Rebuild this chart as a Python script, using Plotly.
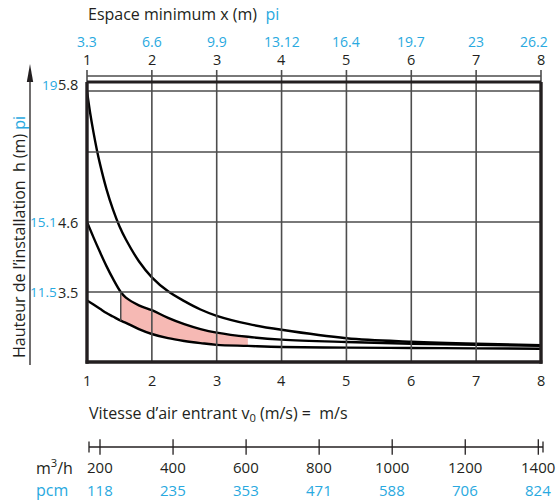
import plotly.graph_objects as go

W, H = 558, 503
BLUE = "#29a9e0"
INK = "#231f20"
GRID = "#4d4d4d"
PINK = "#f6b9b4"
FONT = "Open Sans"

# ---------------- data ----------------
x_ticks = [1, 2, 3, 4, 5, 6, 7, 8]
x_top_pi = ["3.3", "6.6", "9.9", "13.12", "16.4", "19.7", "23", "26.2"]

# labelled heights, in grid units of the chart (bottom frame = 0, one grid row = 1)
h_pos = [1, 2, 3.96]
h_m = ["3.5", "4.6", "5.8"]
h_pi = ["11.5", "15.1", "19"]
grid_rows = [1, 2, 3]
top_rows = [3.87, 4.086]
top_frame = 4.0

flow_m3h = [200, 400, 600, 800, 1000, 1200, 1400]
flow_pcm = [118, 235, 353, 471, 588, 706, 824]

# upper curve
xA = [1.0, 1.05, 1.1, 1.15, 1.2, 1.3, 1.4, 1.5, 1.6, 1.8, 2.0, 2.25, 2.5, 2.75,
      3.0, 3.5, 4.0, 5.0, 6.0, 7.0, 8.0]
yA = [3.87, 3.55, 3.28, 3.04, 2.83, 2.47, 2.18, 1.94, 1.75, 1.44, 1.21, 1.01,
      0.87, 0.75, 0.66, 0.54, 0.46, 0.34, 0.29, 0.26, 0.24]

# middle and lower curves (shared x)
xBC = [1.0, 1.1, 1.2, 1.3, 1.4, 1.52, 1.6, 1.8, 2.0, 2.25, 2.5, 2.75, 3.0,
       3.48, 4.0, 5.0, 6.0, 7.0, 8.0]
yB = [2.0, 1.78, 1.57, 1.37, 1.19, 1.0, 0.92, 0.81, 0.74, 0.63, 0.54, 0.47,
      0.42, 0.36, 0.32, 0.285, 0.26, 0.245, 0.23]
yC = [0.88, 0.82, 0.76, 0.70, 0.65, 0.59, 0.56, 0.47, 0.40, 0.34, 0.30, 0.27,
      0.245, 0.23, 0.215, 0.205, 0.20, 0.195, 0.19]

band_x0, band_x1 = 1.52, 3.48


def pxx(x):
    return x / W


def pxy(y):
    return 1 - y / H


YTOP = 292 / 70.0  # top of main y range (grid units)

fig = go.Figure()

band_idx = [i for i, v in enumerate(xBC) if band_x0 <= v <= band_x1]
bx = [xBC[i] for i in band_idx]
fig.add_trace(go.Scatter(x=bx, y=[yC[i] for i in band_idx], mode="lines",
                         line=dict(width=0, shape="spline"), hoverinfo="skip",
                         showlegend=False))
fig.add_trace(go.Scatter(x=bx, y=[yB[i] for i in band_idx], mode="lines",
                         line=dict(width=0, shape="spline"), fill="tonexty",
                         fillcolor=PINK, hoverinfo="skip", showlegend=False))

for xs, ys in [(xA, yA), (xBC, yB), (xBC, yC)]:
    fig.add_trace(go.Scatter(x=xs, y=ys, mode="lines",
                             line=dict(color="#000000", width=2.4, shape="spline"),
                             showlegend=False, hoverinfo="skip"))

# flow scale tick marks
fig.add_trace(go.Scatter(x=flow_m3h, y=[0] * len(flow_m3h), xaxis="x3", yaxis="y3",
                         mode="markers", cliponaxis=False,
                         marker=dict(symbol="line-ns", size=11,
                                     line=dict(width=1.3, color=INK)),
                         showlegend=False, hoverinfo="skip"))

shapes = []
# vertical grid lines
for xv in x_ticks[1:-1]:
    shapes.append(dict(type="line", xref="x", yref="y", x0=xv, x1=xv, y0=0, y1=YTOP,
                       line=dict(color=GRID, width=1.6), layer="above"))
for xd in [0, 1]:
    shapes.append(dict(type="line", xref="x domain", yref="y", x0=xd, x1=xd,
                       y0=top_frame, y1=YTOP, line=dict(color=GRID, width=1.6),
                       layer="above"))
# horizontal grid lines
for yv in grid_rows + top_rows:
    shapes.append(dict(type="line", xref="x domain", yref="y", x0=0, x1=1, y0=yv, y1=yv,
                       line=dict(color=GRID, width=1.5), layer="above"))
shapes.append(dict(type="line", xref="x domain", yref="y", x0=0, x1=1,
                   y0=top_frame, y1=top_frame, line=dict(color=INK, width=3.2),
                   layer="above"))
# frame
for xd in [0, 1]:
    shapes.append(dict(type="line", xref="x domain", yref="y domain", x0=xd, x1=xd,
                       y0=-0.006, y1=top_frame / YTOP, line=dict(color=INK, width=3.4),
                       layer="above"))
shapes.append(dict(type="line", xref="x domain", yref="y domain", x0=-0.003, x1=1.003,
                   y0=0, y1=0, line=dict(color=INK, width=3.4), layer="above"))
# left edge of shaded band
i0 = xBC.index(band_x0)
shapes.append(dict(type="line", xref="x", yref="y", x0=band_x0, x1=band_x0,
                   y0=yC[i0], y1=yB[i0], line=dict(color=GRID, width=1.5),
                   layer="above"))
# flow scale baseline and end caps
shapes.append(dict(type="line", xref="x3 domain", yref="y3", x0=0, x1=1, y0=0, y1=0,
                   line=dict(color=INK, width=1.4)))
for xd in [0, 1]:
    shapes.append(dict(type="line", xref="x3 domain", yref="y3", x0=xd, x1=xd,
                       y0=-0.9, y1=0.9, line=dict(color=INK, width=1.3)))
# vertical arrow for the height axis
shapes.append(dict(type="line", xref="paper", yref="paper", x0=pxx(30), x1=pxx(30),
                   y0=pxy(365), y1=pxy(78), line=dict(color=INK, width=1.3)))
shapes.append(dict(type="path", xref="paper", yref="paper",
                   path=f"M {pxx(30)} {pxy(64)} L {pxx(26.8)} {pxy(82)} L {pxx(33.2)} {pxy(82)} Z",
                   fillcolor=INK, line=dict(width=0)))

ann = []


def text(x, y, s, xref="paper", yref="paper", color=INK, size=14, xanchor="center",
         yanchor="middle", **kw):
    ann.append(dict(x=x, y=y, xref=xref, yref=yref, text=s, showarrow=False,
                    xanchor=xanchor, yanchor=yanchor,
                    font=dict(family=FONT, size=size, color=color), **kw))


# top scale
for xv, lab in zip(x_ticks, x_top_pi):
    text(xv, pxy(59), str(xv), xref="x", size=14.5)
    text(xv, pxy(42), lab, xref="x", color=BLUE, size=14,
         xshift=(-7 if xv == x_ticks[-1] else 0))
text(pxx(86), pxy(14), f"Espace minimum x (m)\u00a0\u00a0<span style='color:{BLUE}'>pi</span>",
     xanchor="left", size=16)
# bottom scale
for xv in x_ticks:
    text(xv, pxy(380), str(xv), xref="x", size=14.5)
text(pxx(87), pxy(413), "Vitesse d\u2019air entrant v<sub>0</sub> (m/s) =\u00a0\u00a0m/s",
     xanchor="left", size=16)
# y labels
for yv, lm, lp in zip(h_pos, h_m, h_pi):
    text(pxx(80), yv, lm, yref="y", xanchor="right", size=14.5)
    text(pxx(59), yv, lp, yref="y", xanchor="right", color=BLUE, size=13.5)
text(pxx(19), pxy(237),
     f"Hauteur de l\u2019installation\u00a0\u00a0h (m) <span style='color:{BLUE}'>pi</span>",
     textangle=-90, size=16)
# flow scale labels
for v, p in zip(flow_m3h, flow_pcm):
    text(v, pxy(467), str(v), xref="x3", size=15)
    text(v, pxy(490), str(p), xref="x3", color=BLUE, size=15)
text(pxx(34), pxy(467), "m<sup>3</sup>/h", xanchor="left", size=16)
text(pxx(34), pxy(490), "pcm", xanchor="left", color=BLUE, size=16)

px_per_flow = (538.3 - 100) / (1400 - 200)
f0 = 200 - (100 - 89) / px_per_flow
f1 = 1400 + (543 - 538.3) / px_per_flow

fig.update_layout(
    width=W, height=H,
    margin=dict(l=0, r=0, t=0, b=0, autoexpand=False),
    paper_bgcolor="white", plot_bgcolor="white",
    showlegend=False,
    xaxis=dict(domain=[pxx(87), pxx(541)], range=[1, 8], visible=False),
    yaxis=dict(domain=[pxy(362), pxy(70)], range=[0, YTOP], visible=False),
    xaxis3=dict(domain=[pxx(89), pxx(543)], range=[f0, f1], anchor="y3", visible=False),
    yaxis3=dict(domain=[pxy(453), pxy(441)], range=[-1, 1], anchor="x3", visible=False),
    shapes=shapes,
    annotations=ann,
    font=dict(family=FONT, color=INK),
)

fig.write_html("out.html")
